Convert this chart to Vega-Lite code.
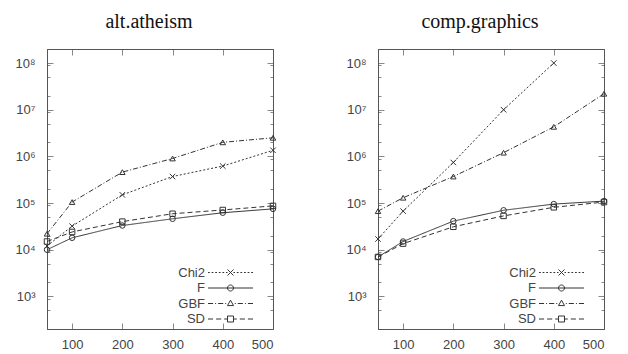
{
  "$schema": "https://vega.github.io/schema/vega-lite/v6.json",
  "padding": {"left": 14, "top": 11, "right": 0, "bottom": 0},
  "background": "white",
  "datasets": {
    "d": [
      {"panel": "alt.atheism", "method": "Chi2", "n": 50, "value": 12000},
      {"panel": "alt.atheism", "method": "Chi2", "n": 100, "value": 32000},
      {"panel": "alt.atheism", "method": "Chi2", "n": 200, "value": 150000},
      {"panel": "alt.atheism", "method": "Chi2", "n": 300, "value": 370000},
      {"panel": "alt.atheism", "method": "Chi2", "n": 400, "value": 620000},
      {"panel": "alt.atheism", "method": "Chi2", "n": 500, "value": 1350000},
      {"panel": "alt.atheism", "method": "F", "n": 50, "value": 10000},
      {"panel": "alt.atheism", "method": "F", "n": 100, "value": 18000},
      {"panel": "alt.atheism", "method": "F", "n": 200, "value": 33000},
      {"panel": "alt.atheism", "method": "F", "n": 300, "value": 46000},
      {"panel": "alt.atheism", "method": "F", "n": 400, "value": 62000},
      {"panel": "alt.atheism", "method": "F", "n": 500, "value": 75000},
      {"panel": "alt.atheism", "method": "GBF", "n": 50, "value": 22000},
      {"panel": "alt.atheism", "method": "GBF", "n": 100, "value": 105000},
      {"panel": "alt.atheism", "method": "GBF", "n": 200, "value": 460000},
      {"panel": "alt.atheism", "method": "GBF", "n": 300, "value": 900000},
      {"panel": "alt.atheism", "method": "GBF", "n": 400, "value": 2000000},
      {"panel": "alt.atheism", "method": "GBF", "n": 500, "value": 2500000},
      {"panel": "alt.atheism", "method": "SD", "n": 50, "value": 15000},
      {"panel": "alt.atheism", "method": "SD", "n": 100, "value": 24000},
      {"panel": "alt.atheism", "method": "SD", "n": 200, "value": 40000},
      {"panel": "alt.atheism", "method": "SD", "n": 300, "value": 59000},
      {"panel": "alt.atheism", "method": "SD", "n": 400, "value": 71000},
      {"panel": "alt.atheism", "method": "SD", "n": 500, "value": 87000},
      {"panel": "comp.graphics", "method": "Chi2", "n": 50, "value": 17000},
      {"panel": "comp.graphics", "method": "Chi2", "n": 100, "value": 67000},
      {"panel": "comp.graphics", "method": "Chi2", "n": 200, "value": 740000},
      {"panel": "comp.graphics", "method": "Chi2", "n": 300, "value": 10000000},
      {"panel": "comp.graphics", "method": "Chi2", "n": 400, "value": 100000000},
      {"panel": "comp.graphics", "method": "F", "n": 50, "value": 7000},
      {"panel": "comp.graphics", "method": "F", "n": 100, "value": 15000},
      {"panel": "comp.graphics", "method": "F", "n": 200, "value": 41000},
      {"panel": "comp.graphics", "method": "F", "n": 300, "value": 70000},
      {"panel": "comp.graphics", "method": "F", "n": 400, "value": 95000},
      {"panel": "comp.graphics", "method": "F", "n": 500, "value": 110000},
      {"panel": "comp.graphics", "method": "GBF", "n": 50, "value": 67000},
      {"panel": "comp.graphics", "method": "GBF", "n": 100, "value": 130000},
      {"panel": "comp.graphics", "method": "GBF", "n": 200, "value": 370000},
      {"panel": "comp.graphics", "method": "GBF", "n": 300, "value": 1200000},
      {"panel": "comp.graphics", "method": "GBF", "n": 400, "value": 4300000},
      {"panel": "comp.graphics", "method": "GBF", "n": 500, "value": 22000000},
      {"panel": "comp.graphics", "method": "SD", "n": 50, "value": 7000},
      {"panel": "comp.graphics", "method": "SD", "n": 100, "value": 13500},
      {"panel": "comp.graphics", "method": "SD", "n": 200, "value": 31000},
      {"panel": "comp.graphics", "method": "SD", "n": 300, "value": 53000},
      {"panel": "comp.graphics", "method": "SD", "n": 400, "value": 81000},
      {"panel": "comp.graphics", "method": "SD", "n": 500, "value": 105000}
    ]
  },
  "data": {"name": "d"},
  "spacing": 66,
  "resolve": {"scale": {"shape": "independent"}, "legend": {"shape": "independent"}},
  "hconcat": [
    {
      "title": {"text": "alt.atheism"},
      "width": 226, "height": 280,
      "transform": [{"filter": "datum.panel === 'alt.atheism'"}],
      "layer": [
        {
          "mark": {"type": "line", "color": "#333", "strokeWidth": 1},
          "encoding": {
            "x": {"field": "n", "type": "quantitative", "scale": {"domain": [50, 500], "nice": false, "zero": false},
              "axis": {"orient": "bottom", "values": [100, 200, 300, 400, 500], "tickSize": -6, "labelPadding": 15, "title": null}},
            "y": {"field": "value", "type": "quantitative", "scale": {"type": "log", "domain": [200, 200000000], "nice": false},
              "axis": {"orient": "left", "values": [500, 900, 1000, 2000, 5000, 9000, 10000, 20000, 50000, 90000, 100000, 200000, 500000, 900000, 1000000, 2000000, 5000000, 9000000, 10000000, 20000000, 50000000, 90000000, 100000000],
                "labelExpr": "abs(log(datum.value)/LN10 - round(log(datum.value)/LN10)) < 0.001 ? '10' + ['⁰','¹','²','³','⁴','⁵','⁶','⁷','⁸','⁹'][round(log(datum.value)/LN10)] : ''",
                "tickSize": {"condition": {"test": "abs(log(datum.value)/LN10 - round(log(datum.value)/LN10)) < 0.001", "value": -6}, "value": -3},
                "labelPadding": 18, "title": null}},
            "strokeDash": {"field": "method", "type": "nominal", "scale": {"domain": ["Chi2", "F", "GBF", "SD"], "range": [[2, 2], [1, 0], [5, 2, 1, 2], [5, 3]]}, "legend": null}
          }
        },
        {"transform": [{"filter": "datum.method === 'Chi2'"}], "mark": {"type": "point", "shape": "M-1,-1L1,1M-1,1L1,-1", "filled": false, "color": "#333", "size": 30, "strokeWidth": 1, "opacity": 1},
          "encoding": {"x": {"field": "n", "type": "quantitative", "axis": null}, "y": {"field": "value", "type": "quantitative", "axis": null}}},
        {"transform": [{"filter": "datum.method === 'F'"}], "mark": {"type": "point", "shape": "circle", "filled": false, "color": "#333", "size": 30, "strokeWidth": 1, "opacity": 1},
          "encoding": {"x": {"field": "n", "type": "quantitative", "axis": null}, "y": {"field": "value", "type": "quantitative", "axis": null}}},
        {"transform": [{"filter": "datum.method === 'GBF'"}], "mark": {"type": "point", "shape": "triangle-up", "filled": false, "color": "#333", "size": 30, "strokeWidth": 1, "opacity": 1},
          "encoding": {"x": {"field": "n", "type": "quantitative", "axis": null}, "y": {"field": "value", "type": "quantitative", "axis": null}}},
        {"transform": [{"filter": "datum.method === 'SD'"}], "mark": {"type": "point", "shape": "square", "filled": false, "color": "#333", "size": 30, "strokeWidth": 1, "opacity": 1},
          "encoding": {"x": {"field": "n", "type": "quantitative", "axis": null}, "y": {"field": "value", "type": "quantitative", "axis": null}}},
        {"transform": [{"filter": "false"}], "mark": {"type": "point", "filled": false, "color": "#333", "strokeWidth": 1, "opacity": 1},
          "encoding": {"shape": {"field": "method", "type": "nominal",
            "scale": {"domain": ["Chi2", "F", "GBF", "SD"], "range": [
              "M-7.5,0L-6.9,0M-6.3,0L-5.7,0M-5.1,0L-4.5,0M-3.9,0L-3.3,0M-2.7,0L-2.1,0M-1.5,0L-1,0M1,0L1.5,0M2.1,0L2.7,0M3.3,0L3.9,0M4.5,0L5.1,0M5.7,0L6.3,0M6.9,0L7.5,0M-1,-1L1,1M-1,1L1,-1",
              "M-7.5,0L7.5,0M-1,0A1,1,0,1,1,1,0A1,1,0,1,1,-1,0",
              "M-7.5,0L-5.8,0M-5.13,0L-4.8,0M-4.13,0L-2.43,0M-1.77,0L-1.43,0M1.43,0L1.77,0M2.43,0L4.13,0M4.8,0L5.13,0M5.8,0L7.5,0M0,-1.1L1,0.7L-1,0.7Z",
              "M-7.5,0L-5.8,0M-4.8,0L-3.1,0M-2.1,0L-1,0M1,0L2.1,0M3.1,0L4.8,0M5.8,0L7.5,0M-1,-1L1,-1L1,1L-1,1Z"]},
            "legend": {"title": null, "orient": "none", "legendX": 177, "legendY": 217, "padding": 0, "labelAlign": "right", "labelOffset": -32, "symbolSize": 36, "symbolStrokeWidth": 1, "symbolStrokeColor": "#333", "symbolFillColor": "transparent", "rowPadding": 1.5}}}},
        {
          "mark": {"type": "point", "opacity": 0},
          "encoding": {
            "x": {"field": "n", "type": "quantitative",
              "axis": {"orient": "top", "values": [100, 200, 300, 400, 500], "tickSize": -6, "labels": false, "title": null}},
            "y": {"field": "value", "type": "quantitative",
              "axis": {"orient": "right", "values": [500, 900, 1000, 2000, 5000, 9000, 10000, 20000, 50000, 90000, 100000, 200000, 500000, 900000, 1000000, 2000000, 5000000, 9000000, 10000000, 20000000, 50000000, 90000000, 100000000],
                "tickSize": {"condition": {"test": "abs(log(datum.value)/LN10 - round(log(datum.value)/LN10)) < 0.001", "value": -6}, "value": -3},
                "labels": false, "title": null}}
          }
        }
      ],
      "resolve": {"axis": {"x": "independent", "y": "independent"}}
    },
    {
      "title": {"text": "comp.graphics"},
      "width": 226, "height": 280,
      "transform": [{"filter": "datum.panel === 'comp.graphics'"}],
      "layer": [
        {
          "mark": {"type": "line", "color": "#333", "strokeWidth": 1},
          "encoding": {
            "x": {"field": "n", "type": "quantitative", "scale": {"domain": [50, 500], "nice": false, "zero": false},
              "axis": {"orient": "bottom", "values": [100, 200, 300, 400, 500], "tickSize": -6, "labelPadding": 15, "title": null}},
            "y": {"field": "value", "type": "quantitative", "scale": {"type": "log", "domain": [200, 200000000], "nice": false},
              "axis": {"orient": "left", "values": [500, 900, 1000, 2000, 5000, 9000, 10000, 20000, 50000, 90000, 100000, 200000, 500000, 900000, 1000000, 2000000, 5000000, 9000000, 10000000, 20000000, 50000000, 90000000, 100000000],
                "labelExpr": "abs(log(datum.value)/LN10 - round(log(datum.value)/LN10)) < 0.001 ? '10' + ['⁰','¹','²','³','⁴','⁵','⁶','⁷','⁸','⁹'][round(log(datum.value)/LN10)] : ''",
                "tickSize": {"condition": {"test": "abs(log(datum.value)/LN10 - round(log(datum.value)/LN10)) < 0.001", "value": -6}, "value": -3},
                "labelPadding": 18, "title": null}},
            "strokeDash": {"field": "method", "type": "nominal", "scale": {"domain": ["Chi2", "F", "GBF", "SD"], "range": [[2, 2], [1, 0], [5, 2, 1, 2], [5, 3]]}, "legend": null}
          }
        },
        {"transform": [{"filter": "datum.method === 'Chi2'"}], "mark": {"type": "point", "shape": "M-1,-1L1,1M-1,1L1,-1", "filled": false, "color": "#333", "size": 30, "strokeWidth": 1, "opacity": 1},
          "encoding": {"x": {"field": "n", "type": "quantitative", "axis": null}, "y": {"field": "value", "type": "quantitative", "axis": null}}},
        {"transform": [{"filter": "datum.method === 'F'"}], "mark": {"type": "point", "shape": "circle", "filled": false, "color": "#333", "size": 30, "strokeWidth": 1, "opacity": 1},
          "encoding": {"x": {"field": "n", "type": "quantitative", "axis": null}, "y": {"field": "value", "type": "quantitative", "axis": null}}},
        {"transform": [{"filter": "datum.method === 'GBF'"}], "mark": {"type": "point", "shape": "triangle-up", "filled": false, "color": "#333", "size": 30, "strokeWidth": 1, "opacity": 1},
          "encoding": {"x": {"field": "n", "type": "quantitative", "axis": null}, "y": {"field": "value", "type": "quantitative", "axis": null}}},
        {"transform": [{"filter": "datum.method === 'SD'"}], "mark": {"type": "point", "shape": "square", "filled": false, "color": "#333", "size": 30, "strokeWidth": 1, "opacity": 1},
          "encoding": {"x": {"field": "n", "type": "quantitative", "axis": null}, "y": {"field": "value", "type": "quantitative", "axis": null}}},
        {"transform": [{"filter": "false"}], "mark": {"type": "point", "filled": false, "color": "#333", "strokeWidth": 1, "opacity": 1},
          "encoding": {"shape": {"field": "method", "type": "nominal",
            "scale": {"domain": ["Chi2", "F", "GBF", "SD"], "range": [
              "M-7.5,0L-6.9,0M-6.3,0L-5.7,0M-5.1,0L-4.5,0M-3.9,0L-3.3,0M-2.7,0L-2.1,0M-1.5,0L-1,0M1,0L1.5,0M2.1,0L2.7,0M3.3,0L3.9,0M4.5,0L5.1,0M5.7,0L6.3,0M6.9,0L7.5,0M-1,-1L1,1M-1,1L1,-1",
              "M-7.5,0L7.5,0M-1,0A1,1,0,1,1,1,0A1,1,0,1,1,-1,0",
              "M-7.5,0L-5.8,0M-5.13,0L-4.8,0M-4.13,0L-2.43,0M-1.77,0L-1.43,0M1.43,0L1.77,0M2.43,0L4.13,0M4.8,0L5.13,0M5.8,0L7.5,0M0,-1.1L1,0.7L-1,0.7Z",
              "M-7.5,0L-5.8,0M-4.8,0L-3.1,0M-2.1,0L-1,0M1,0L2.1,0M3.1,0L4.8,0M5.8,0L7.5,0M-1,-1L1,-1L1,1L-1,1Z"]},
            "legend": {"title": null, "orient": "none", "legendX": 177, "legendY": 217, "padding": 0, "labelAlign": "right", "labelOffset": -32, "symbolSize": 36, "symbolStrokeWidth": 1, "symbolStrokeColor": "#333", "symbolFillColor": "transparent", "rowPadding": 1.5}}}},
        {
          "mark": {"type": "point", "opacity": 0},
          "encoding": {
            "x": {"field": "n", "type": "quantitative",
              "axis": {"orient": "top", "values": [100, 200, 300, 400, 500], "tickSize": -6, "labels": false, "title": null}},
            "y": {"field": "value", "type": "quantitative",
              "axis": {"orient": "right", "values": [500, 900, 1000, 2000, 5000, 9000, 10000, 20000, 50000, 90000, 100000, 200000, 500000, 900000, 1000000, 2000000, 5000000, 9000000, 10000000, 20000000, 50000000, 90000000, 100000000],
                "tickSize": {"condition": {"test": "abs(log(datum.value)/LN10 - round(log(datum.value)/LN10)) < 0.001", "value": -6}, "value": -3},
                "labels": false, "title": null}}
          }
        }
      ],
      "resolve": {"axis": {"x": "independent", "y": "independent"}}
    }
  ],
  "config": {
    "view": {"stroke": "#555", "strokeWidth": 1},
    "title": {"font": "Liberation Serif", "fontSize": 20, "fontWeight": "normal", "color": "#111", "offset": 17, "dx": -11},
    "axis": {"grid": false, "domainColor": "#555", "labelFont": "Liberation Sans", "labelFontSize": 13, "labelColor": "#444"},
    "legend": {"labelFont": "Liberation Sans", "labelFontSize": 13, "labelColor": "#444"}
  }
}
